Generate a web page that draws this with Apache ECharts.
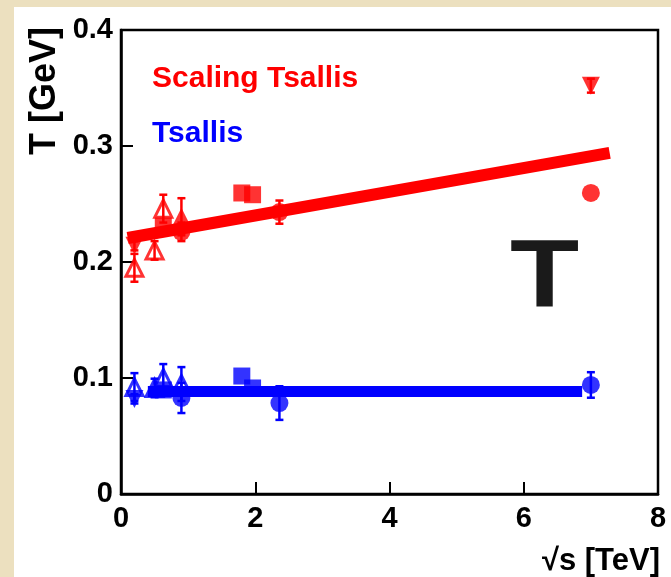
<!DOCTYPE html>
<html>
<head>
<meta charset="utf-8">
<script src="https://cdn.jsdelivr.net/npm/echarts@6/dist/echarts.min.js"></script>
<style>
  html, body { margin: 0; padding: 0; background: #ece0bf; }
  #chart { width: 671px; height: 577px; }
</style>
</head>
<body>
<div id="chart"></div>
<script>
// Temperature parameter T versus collision energy sqrt(s), two fit models.
// Each point: [sqrt(s) in TeV, T in GeV, error in GeV]

// Scaling Tsallis (red)
const scalingDownTri = [[0.2, 0.214, 0.004], [7.0, 0.352, 0.006]];
const scalingOpenTri = [[0.2, 0.195, 0.012], [0.5, 0.210, 0.008], [0.63, 0.246, 0.012]];
const scalingFullTri = [[0.9, 0.239, 0.016]];
const scalingSquare  = [[0.63, 0.231, 0], [1.8, 0.2595, 0], [1.96, 0.258, 0]];
const scalingCircle  = [[0.9, 0.226, 0.008], [2.36, 0.243, 0.010], [7.0, 0.2595, 0]];
const scalingFit     = [[0.1, 0.2207], [7.28, 0.294]];

// Tsallis (blue)
const tsallisDownTri = [[0.2, 0.082, 0.004]];
const tsallisOpenTri = [[0.2, 0.0922, 0.012], [0.5, 0.0914, 0.008], [0.63, 0.100, 0.012], [0.9, 0.0948, 0.0146]];
const tsallisSquare  = [[0.63, 0.0897, 0], [1.8, 0.1017, 0], [1.96, 0.0914, 0]];
const tsallisCircle  = [[0.9, 0.0828, 0.013], [2.36, 0.0784, 0.0145], [7.0, 0.094, 0.011]];
const tsallisFit     = [[0.4, 0.0884], [6.87, 0.0884]];

// Axis ranges and tick steps
const xRange = [0, 8], xStep = 2;
const yRange = [0, 0.4], yStep = 0.1;

const RED = '#ff0000', BLUE = '#0000ff';
const FONT = '"Liberation Sans", Arial, Helvetica, sans-serif';

function errorBarRenderer(color) {
  return function (params, api) {
    const x = api.value(0), y = api.value(1), e = api.value(2);
    if (!e) return null;
    const top = api.coord([x, y + e]);
    const bot = api.coord([x, y - e]);
    const cap = 4;
    const st = { stroke: color, lineWidth: 2.5 };
    return {
      type: 'group',
      children: [
        { type: 'line', shape: { x1: top[0], y1: top[1], x2: bot[0], y2: bot[1] }, style: st },
        { type: 'line', shape: { x1: top[0] - cap, y1: top[1], x2: top[0] + cap, y2: top[1] }, style: st },
        { type: 'line', shape: { x1: bot[0] - cap, y1: bot[1], x2: bot[0] + cap, y2: bot[1] }, style: st }
      ]
    };
  };
}

function markers(data, color, symbol, opts) {
  opts = opts || {};
  return {
    type: 'scatter',
    data: data.map(d => [d[0], d[1]]),
    symbol: symbol,
    symbolSize: opts.size || 18,
    symbolRotate: opts.rotate || 0,
    itemStyle: opts.open
      ? { color: '#ffffff', borderColor: color, borderWidth: 3 }
      : { color: color },
    z: opts.z || 3,
    silent: true
  };
}

function errors(data, color) {
  return {
    type: 'custom',
    data: data,
    renderItem: errorBarRenderer(color),
    z: 4,
    silent: true
  };
}

function fitLine(data, color, width) {
  return {
    type: 'line',
    data: data,
    symbol: 'none',
    lineStyle: { color: color, width: width, cap: 'butt' },
    z: 5,
    silent: true
  };
}

const chart = echarts.init(document.getElementById('chart'));

chart.setOption({
  animation: false,
  backgroundColor: '#ece0bf',
  grid: {
    left: 121, right: 13, top: 30, bottom: 83,
    show: true, borderColor: '#000', borderWidth: 2.5, backgroundColor: 'transparent'
  },
  xAxis: {
    type: 'value', min: xRange[0], max: xRange[1], interval: xStep,
    axisLine: { show: true, onZero: false, lineStyle: { color: '#000', width: 2.5 } },
    axisTick: { show: true, inside: true, length: 12, lineStyle: { color: '#000', width: 2 } },
    axisLabel: { color: '#000', fontFamily: FONT, fontWeight: 'bold', fontSize: 29, margin: 10,
                 formatter: v => String(v) },
    splitLine: { show: false }
  },
  yAxis: {
    type: 'value', min: yRange[0], max: yRange[1], interval: yStep,
    axisLine: { show: true, onZero: false, lineStyle: { color: '#000', width: 2.5 } },
    axisTick: { show: true, inside: true, length: 12, lineStyle: { color: '#000', width: 2 } },
    axisLabel: { color: '#000', fontFamily: FONT, fontWeight: 'bold', fontSize: 29, margin: 8,
                 formatter: v => (v === 0 ? '0' : v.toFixed(1)) },
    splitLine: { show: false }
  },
  graphic: [
    // white panel behind the plot
    { type: 'rect', left: 14, top: 7, shape: { width: 657, height: 570 }, style: { fill: '#ffffff' }, z: -10, silent: true },
    // model labels
    { type: 'text', x: 152, y: 64, style: { text: 'Scaling Tsallis', fill: RED, font: 'bold 30px ' + FONT, verticalAlign: 'top' }, z: 10 },
    { type: 'text', x: 152, y: 119, style: { text: 'Tsallis', fill: BLUE, font: 'bold 30px ' + FONT, verticalAlign: 'top' }, z: 10 },
    // large T
    { type: 'text', x: 544.5, y: 233, scaleX: 1.18,
      style: { text: 'T', fill: '#1a1a1a', font: 'bold 96px ' + FONT, align: 'center', verticalAlign: 'top' }, z: 10 },
    // axis titles
    { type: 'text', x: 45, y: 27, rotation: Math.PI / 2,
      style: { text: 'T [GeV]', fill: '#000', font: 'bold 36px ' + FONT, align: 'right', verticalAlign: 'middle' }, z: 10 },
    { type: 'text', x: 660, y: 546,
      style: { text: '√s [TeV]', fill: '#000', font: 'bold 31px ' + FONT, align: 'right', verticalAlign: 'top' }, z: 10 }
  ],
  series: [
    markers(scalingOpenTri, RED, 'triangle', { open: true, size: 17 }),
    markers(scalingDownTri, RED, 'triangle', { rotate: 180 }),
    markers(scalingFullTri, RED, 'triangle'),
    markers(scalingSquare, RED, 'rect', { size: 17 }),
    markers(scalingCircle, RED, 'circle'),
    errors(scalingDownTri, RED),
    errors(scalingOpenTri, RED),
    errors(scalingFullTri, RED),
    errors(scalingCircle, RED),
    fitLine(scalingFit, RED, 12),

    markers(tsallisOpenTri, BLUE, 'triangle', { open: true, size: 17 }),
    markers(tsallisDownTri, BLUE, 'triangle', { rotate: 180, z: 4 }),
    markers(tsallisSquare, BLUE, 'rect', { size: 17 }),
    markers(tsallisCircle, BLUE, 'circle'),
    errors(tsallisDownTri, BLUE),
    errors(tsallisOpenTri, BLUE),
    errors(tsallisCircle, BLUE),
    fitLine(tsallisFit, BLUE, 11)
  ]
});
</script>
</body>
</html>
